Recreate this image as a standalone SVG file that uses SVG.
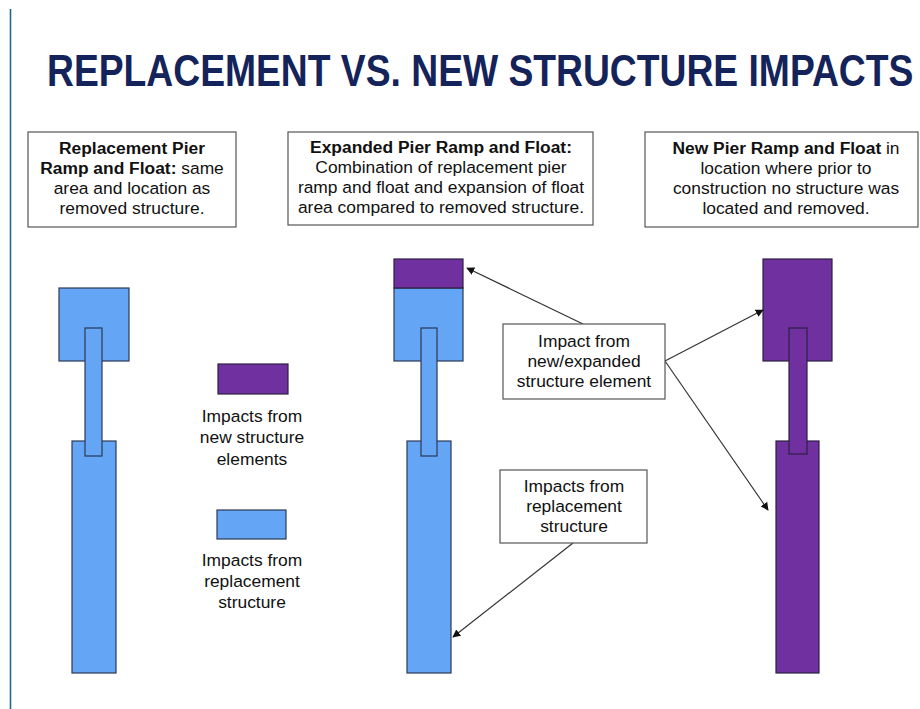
<svg xmlns="http://www.w3.org/2000/svg" width="920" height="709" viewBox="0 0 920 709">
  <defs>
    <marker id="arrow" viewBox="0 0 10 10" refX="9" refY="5" markerWidth="8" markerHeight="8" markerUnits="userSpaceOnUse" orient="auto">
      <path d="M0,0 L10,5 L0,10 z" fill="#111"/>
    </marker>
    <style>
      .title { font-family: "Liberation Sans", Arial, sans-serif; font-weight: bold; font-size: 45px; fill: #14235a; }
      .txt { font-family: "Liberation Sans", Arial, sans-serif; font-size: 17.4px; fill: #111; text-anchor: middle; }
      .b { font-weight: bold; }
      .box { fill: #fff; stroke: #555; stroke-width: 1.2; }
      .blue { fill: #64a5f5; stroke: #2b3a55; stroke-width: 1.2; }
      .purple { fill: #7030a0; stroke: #2b2040; stroke-width: 1.2; }
      .conn { stroke: #333; stroke-width: 1.2; fill: none; marker-end: url(#arrow); }
    </style>
  </defs>

  <rect width="920" height="709" fill="#fff"/>
  <!-- left margin rule -->
  <line x1="10.5" y1="9" x2="10.5" y2="709" stroke="#1f6a8c" stroke-width="1.6"/>

  <!-- heading, horizontally condensed -->
  <text class="title" transform="translate(47,86) scale(0.828,1)" x="0" y="0">REPLACEMENT VS. NEW STRUCTURE IMPACTS</text>

  <!-- description boxes -->
  <g id="desc-replacement">
    <rect class="box" x="28" y="132" width="208" height="95"/>
    <text class="txt" x="132" y="154"><tspan class="b">Replacement Pier</tspan></text>
    <text class="txt" x="132" y="174"><tspan class="b">Ramp and Float:</tspan> same</text>
    <text class="txt" x="132" y="194">area and location as</text>
    <text class="txt" x="132" y="214">removed structure.</text>
  </g>
  <g id="desc-expanded">
    <rect class="box" x="288" y="132" width="305" height="93"/>
    <text class="txt" x="441" y="153"><tspan class="b">Expanded Pier Ramp and Float:</tspan></text>
    <text class="txt" x="441" y="173">Combination of replacement pier</text>
    <text class="txt" x="441" y="193">ramp and float and expansion of float</text>
    <text class="txt" x="441" y="213">area compared to removed structure.</text>
  </g>
  <g id="desc-new">
    <rect class="box" x="645" y="132" width="273" height="95"/>
    <text class="txt" x="786" y="154"><tspan class="b">New Pier Ramp and Float</tspan> in</text>
    <text class="txt" x="786" y="174">location where prior to</text>
    <text class="txt" x="786" y="194">construction no structure was</text>
    <text class="txt" x="786" y="214">located and removed.</text>
  </g>

  <!-- replacement pier -->
  <g id="pier-replacement">
    <rect class="blue" x="59" y="288" width="70" height="73"/>
    <rect class="blue" x="72" y="441" width="44" height="232"/>
    <rect class="blue" x="85" y="328" width="17" height="128"/>
  </g>

  <!-- legend -->
  <g id="legend-new">
    <rect class="purple" x="218" y="364" width="70" height="30"/>
    <text class="txt" x="252" y="422">Impacts from</text>
    <text class="txt" x="252" y="443">new structure</text>
    <text class="txt" x="252" y="465">elements</text>
  </g>
  <g id="legend-replacement">
    <rect class="blue" x="217" y="510" width="69" height="29"/>
    <text class="txt" x="252" y="566">Impacts from</text>
    <text class="txt" x="252" y="587">replacement</text>
    <text class="txt" x="252" y="608">structure</text>
  </g>

  <!-- expanded pier -->
  <g id="pier-expanded">
    <rect class="blue" x="394" y="288" width="69" height="73"/>
    <rect class="purple" x="394" y="259" width="69" height="29"/>
    <rect class="blue" x="407" y="441" width="44" height="232"/>
    <rect class="blue" x="421" y="328" width="16" height="128"/>
  </g>

  <!-- new pier -->
  <g id="pier-new">
    <rect class="purple" x="763" y="259" width="69" height="102"/>
    <rect class="purple" x="776" y="441" width="43" height="232"/>
    <rect class="purple" x="789" y="328" width="18" height="126"/>
  </g>

  <!-- connectors -->
  <g id="connectors">
    <line class="conn" x1="583" y1="324" x2="467" y2="268"/>
    <line class="conn" x1="665" y1="361" x2="763" y2="310"/>
    <line class="conn" x1="665" y1="361" x2="768" y2="510"/>
    <line class="conn" x1="573" y1="543" x2="453" y2="637"/>
  </g>

  <!-- callouts -->
  <g id="callout-expanded">
    <rect class="box" x="503" y="324" width="162" height="75"/>
    <text class="txt" x="584" y="347">Impact from</text>
    <text class="txt" x="584" y="367">new/expanded</text>
    <text class="txt" x="584" y="387">structure element</text>
  </g>
  <g id="callout-replacement">
    <rect class="box" x="500" y="470" width="147" height="73"/>
    <text class="txt" x="574" y="492">Impacts from</text>
    <text class="txt" x="574" y="512">replacement</text>
    <text class="txt" x="574" y="532">structure</text>
  </g>
</svg>
